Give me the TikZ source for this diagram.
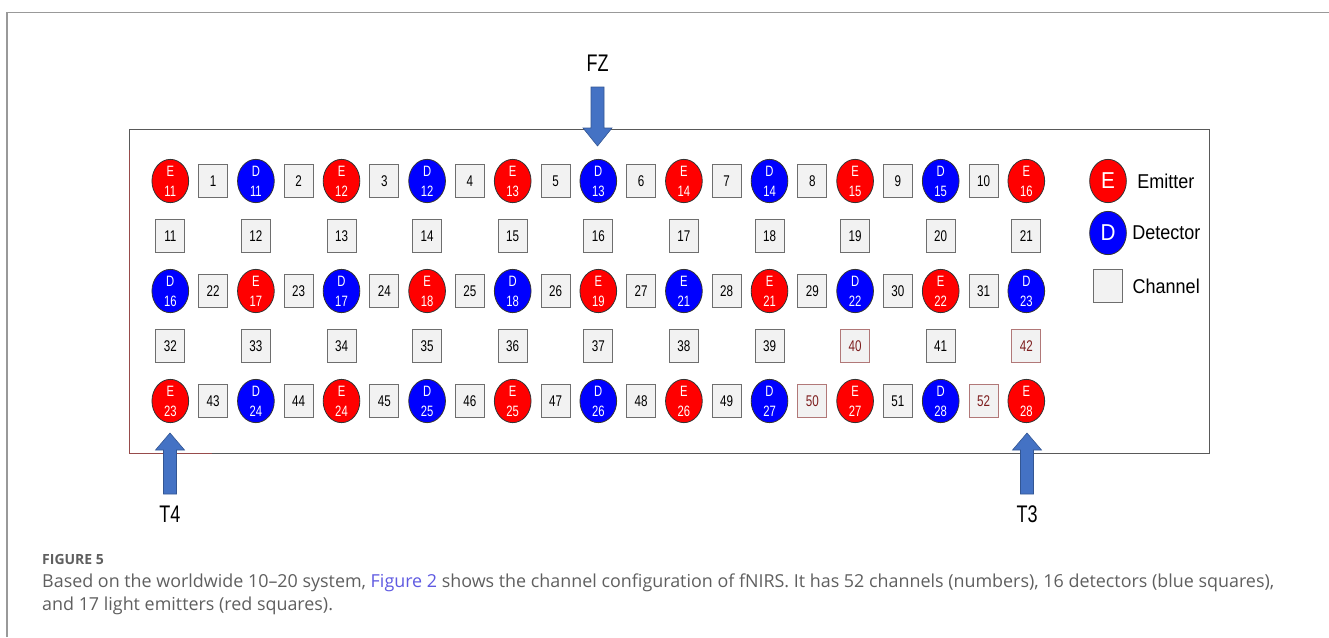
\documentclass[tikz,border=0pt]{standalone}
\usepackage{fontspec}
\setmainfont{Open Sans}
\newfontfamily\cfont[FakeStretch=0.75]{Liberation Sans}
\newfontfamily\lfont[FakeStretch=0.9]{Liberation Sans}
\usetikzlibrary{shapes.geometric, positioning}

\definecolor{emitred}{RGB}{255,0,0}
\definecolor{detblue}{RGB}{0,0,255}
\definecolor{chanfill}{RGB}{242,242,242}
\definecolor{chanline}{RGB}{110,110,110}
\definecolor{arrowblue}{RGB}{68,114,196}
\definecolor{captiongray}{RGB}{95,95,95}
\definecolor{linkblue}{RGB}{95,90,225}
\definecolor{oddred}{RGB}{125,30,30}

% block arrow: x, tip y, tail y, head base y
\newcommand{\sitearrow}[4]{%
  \filldraw[block arrow] ({#1-6.5},#3) -- ({#1+6.5},#3) -- ({#1+6.5},#4) -- ({#1+14.5},#4)
    -- (#1,#2) -- ({#1-14.5},#4) -- ({#1-6.5},#4) -- cycle;}

\begin{document}
\begin{tikzpicture}[
    x=1pt, y=-1pt,
    emitter node/.style={ellipse,draw=black!80,line width=0.8pt,fill=emitred,minimum width=36.7pt,minimum height=43.3pt,inner sep=0pt,
      text=white,align=center,font=\cfont\fontsize{15}{20}\selectfont},
    detector node/.style={emitter node,fill=detblue},
    channel node/.style={rectangle,draw=chanline,fill=chanfill,line width=1pt,minimum width=29pt,minimum height=33.7pt,inner sep=0pt,
      font=\cfont\fontsize{15.5}{15.5}\selectfont},
    odd channel/.style={channel node,draw=oddred!60,text=oddred},
    block arrow/.style={fill=arrowblue,draw=arrowblue!75!black,line width=0.6pt},
    legend text/.style={inner sep=0pt,font=\lfont\fontsize{20}{20}\selectfont},
    site text/.style={font=\cfont\fontsize{24}{24}\selectfont},
    caption text/.style={anchor=base west,inner sep=0pt,text=captiongray,font=\fontsize{17.9}{24}\selectfont}
]
\useasboundingbox (0,0) rectangle (1329,637);

% page frame
\draw[black!40,line width=1.3pt] (7,637) -- (7,12.7) -- (1329,12.7);

% probe holder
\draw[black!65,line width=1pt] (129,129) rectangle (1209,453);
\draw[oddred!80,line width=1pt] (129,150) -- (129,453) -- (212,453);

% optodes
\foreach \kind/\sym/\num [count=\i] in {emitter node/E/11, detector node/D/11, emitter node/E/12, detector node/D/12,
    emitter node/E/13, detector node/D/13, emitter node/E/14, detector node/D/14, emitter node/E/15,
    detector node/D/15, emitter node/E/16}
  \node[\kind] (o1-\i) at ({170.3+85.6*(\i-1)},181) {\sym\\\num};
\foreach \kind/\sym/\num [count=\i] in {detector node/D/16, emitter node/E/17, detector node/D/17, emitter node/E/18,
    detector node/D/18, emitter node/E/19, detector node/E/21, emitter node/E/21, detector node/D/22,
    emitter node/E/22, detector node/D/23}
  \node[\kind] (o3-\i) at ({170.3+85.6*(\i-1)},291) {\sym\\\num};
\foreach \kind/\sym/\num [count=\i] in {emitter node/E/23, detector node/D/24, emitter node/E/24, detector node/D/25,
    emitter node/E/25, detector node/D/26, emitter node/E/26, detector node/D/27, emitter node/E/27,
    detector node/D/28, emitter node/E/28}
  \node[\kind] (o5-\i) at ({170.3+85.6*(\i-1)},401) {\sym\\\num};

% channels
\foreach \num [count=\i] in {1,...,10}
  \node[channel node] (ch\num) at ({213.1+85.6*(\i-1)},181) {\num};
\foreach \num [count=\i] in {11,...,21}
  \node[channel node] (ch\num) at ({170.3+85.6*(\i-1)},236) {\num};
\foreach \num [count=\i] in {22,...,31}
  \node[channel node] (ch\num) at ({213.1+85.6*(\i-1)},291) {\num};
\foreach \num/\sty [count=\i] in {32/channel node, 33/channel node, 34/channel node, 35/channel node, 36/channel node,
    37/channel node, 38/channel node, 39/channel node, 40/odd channel, 41/channel node, 42/odd channel}
  \node[\sty] (ch\num) at ({170.3+85.6*(\i-1)},346) {\num};
\foreach \num/\sty [count=\i] in {43/channel node, 44/channel node, 45/channel node, 46/channel node, 47/channel node,
    48/channel node, 49/channel node, 50/odd channel, 51/channel node, 52/odd channel}
  \node[\sty] (ch\num) at ({213.1+85.6*(\i-1)},401) {\num};

% legend
\node[emitter node,font=\lfont\fontsize{23}{23}\selectfont] (legE) at (1108,181) {E};
\node[detector node,font=\lfont\fontsize{23}{23}\selectfont] (legD) at (1108,233) {D};
\node[channel node,minimum height=33pt] (legC) at (1107.5,286) {};
\node[legend text,right=10.5pt of legE] (legEt) {Emitter};
\node[legend text,right=5.5pt of legD] (legDt) {Detector};
\node[legend text,right=10pt of legC] (legCt) {Channel};

% reference sites
\sitearrow{597.5}{146}{87}{128}
\sitearrow{170}{433}{494}{450}
\sitearrow{1027}{433}{494}{450}
\node[site text] (fz) at (597.5,63.5) {FZ};
\node[site text] (t4) at (170,514) {T4};
\node[site text] (t3) at (1027,514) {T3};

% caption
\node[caption text,font=\bfseries\fontsize{14}{14}\selectfont] (fig) at (42,564) {FIGURE 5};
\node[caption text] (cap1) at (42,587)
  {Based on the worldwide 10--20 system, \textcolor{linkblue}{Figure 2} shows the channel configuration of fNIRS. It has 52 channels (numbers), 16 detectors (blue squares),};
\node[caption text] (cap2) at (42,610) {and 17 light emitters (red squares).};
\end{tikzpicture}
\end{document}
